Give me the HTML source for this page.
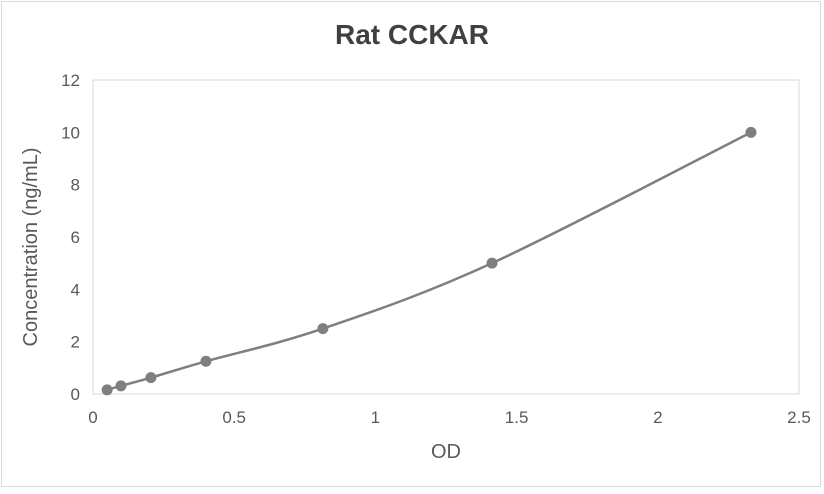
<!DOCTYPE html>
<html><head><meta charset="utf-8"><style>
body{margin:0;background:#fff;font-family:"Liberation Sans",sans-serif}
svg text{font-family:"Liberation Sans",sans-serif;fill:#595959}
</style></head><body>
<svg width="824" height="489" id="c">
<rect x="1.5" y="1.5" width="819" height="485" fill="#fff" stroke="#d9d9d9"/>
<text x="412" y="44" text-anchor="middle" font-size="28" font-weight="bold" style="fill:#404040">Rat CCKAR</text>
<rect x="93" y="80" width="706" height="314" fill="none" stroke="#d9d9d9"/>
<g id="xt"></g>
<g id="yt"></g>
<text x="446" y="458" text-anchor="middle" font-size="20">OD</text>
<text transform="translate(37,247) rotate(-90)" text-anchor="middle" font-size="20">Concentration (ng/mL)</text>
<g id="series"></g>
</svg>
<script>
const od=[0.05,0.099,0.205,0.40,0.814,1.413,2.33];
const conc=[0.156,0.312,0.625,1.25,2.5,5,10];
const xTicks=[0,0.5,1,1.5,2,2.5];
const xTickLabels=["0","0.5","1","1.5","2","2.5"];
const yTicks=[0,2,4,6,8,10,12];
const yTickLabels=["0","2","4","6","8","10","12"];
const NS="http://www.w3.org/2000/svg";
const X=v=>93+v/2.5*706, Y=v=>394-v/12*314;
const xt=document.getElementById('xt'),yt=document.getElementById('yt'),sg=document.getElementById('series');
xTicks.forEach((t,i)=>{const e=document.createElementNS(NS,'text');


e.setAttribute('x',X(t));e.setAttribute('y',423);e.setAttribute('text-anchor','middle');e.setAttribute('font-size','17');e.textContent=xTickLabels[i];xt.appendChild(e);});
yTicks.forEach((t,i)=>{const e=document.createElementNS(NS,'text');


e.setAttribute('x',80);e.setAttribute('y',Y(t)+6);e.setAttribute('text-anchor','end');e.setAttribute('font-size','17');e.textContent=yTickLabels[i];yt.appendChild(e);});
const P=od.map((v,i)=>[X(v),Y(conc[i])]);
let d='M'+P[0][0]+','+P[0][1];
for(let i=0;i<P.length-1;i++){const p0=P[i-1]||P[i],p1=P[i],p2=P[i+1],p3=P[i+2]||P[i+1];
const c1=[p1[0]+(p2[0]-p0[0])/6,p1[1]+(p2[1]-p0[1])/6],c2=[p2[0]-(p3[0]-p1[0])/6,p2[1]-(p3[1]-p1[1])/6];
d+=` C${c1[0]},${c1[1]} ${c2[0]},${c2[1]} ${p2[0]},${p2[1]}`;}
const path=document.createElementNS(NS,'path');


path.setAttribute('d',d);path.setAttribute('fill','none');path.setAttribute('stroke','#7f7f7f');path.setAttribute('stroke-width','2.5');sg.appendChild(path);
P.forEach(p=>{const c=document.createElementNS(NS,'circle');


c.setAttribute('cx',p[0]);c.setAttribute('cy',p[1]);c.setAttribute('r','5.5');c.setAttribute('fill','#7f7f7f');sg.appendChild(c);});
</script>
</body></html>
